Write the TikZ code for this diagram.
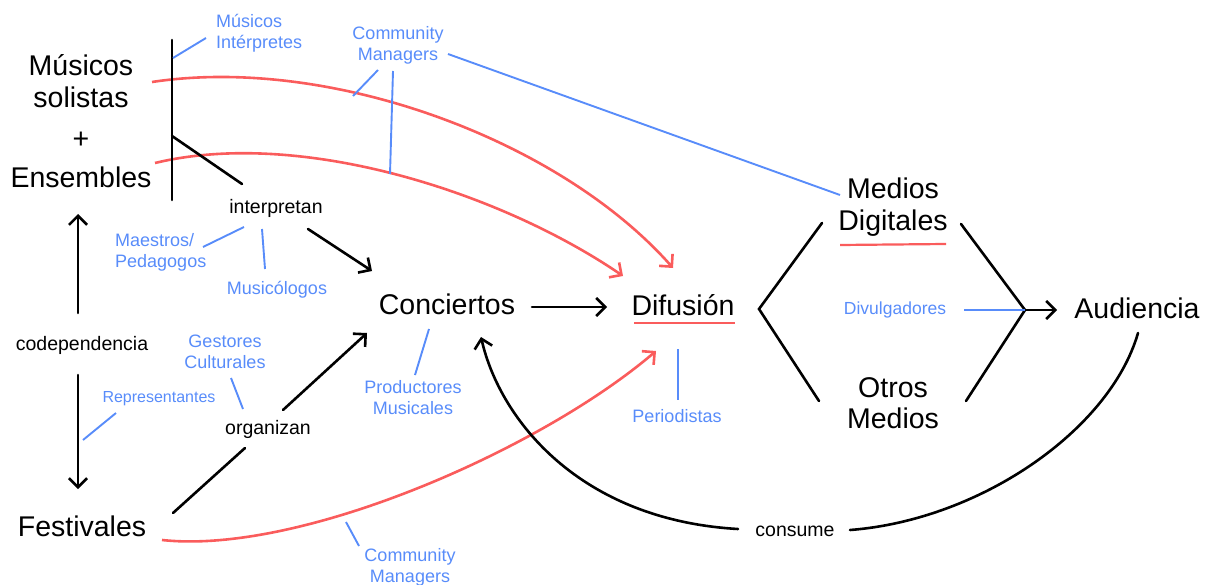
\documentclass[tikz,border=0pt]{standalone}
\usepackage{fontspec}
\setmainfont{Liberation Sans}
\usetikzlibrary{arrows.meta}
\definecolor{cblue}{RGB}{88,140,250}
\definecolor{cred}{RGB}{250,92,92}
\tikzset{
  big/.style={font=\fontsize{28.5}{31.5}\selectfont, align=center, inner sep=0pt},
  mid/.style={font=\fontsize{19.5}{22}\selectfont, inner sep=0pt},
  lbl/.style={text=cblue, font=\fontsize{18}{21}\selectfont, align=center, inner sep=0pt},
  blk/.style={line width=2.6pt, black, line cap=round},
  bln/.style={line width=1.9pt, cblue},
  rdl/.style={line width=2.6pt, cred},
  arr/.style={-{Straight Barb[length=9pt,width=18pt]}},
}
\begin{document}
\begin{tikzpicture}[x=1pt,y=-1pt]
\useasboundingbox (0,0) rectangle (1206,585);
% text nodes
\node[big] (mus) at (81,81) {Músicos\\solistas};
\node[big] (plus) at (81,140) {+};
\node[big] (ens) at (81,177) {Ensembles};
\node[lbl, align=left, anchor=west] (mi) at (216,33) {Músicos\\Intérpretes};
\node[lbl] (cm1) at (398,45) {Community\\Managers};
\node[mid] (interp) at (276,208) {interpretan};
\node[lbl, align=left, anchor=west] (maes) at (115,252) {Maestros/\\Pedagogos};
\node[lbl] (musico) at (277,290) {Musicólogos};
\node[big] (conc) at (447,304) {Conciertos};
\node[big] (dif) at (683,305) {Difusión};
\node[lbl] (prod) at (413,398) {Productores\\Musicales};
\node[lbl] (period) at (677,416) {Periodistas};
\node[big] (md) at (893,207) {Medios\\Digitales};
\node[big] (om) at (893,403) {Otros\\Medios};
\node[lbl, font=\fontsize{17.5}{20}\selectfont] (divul) at (895,310) {Divulgadores};
\node[big] (aud) at (1137,308) {Audiencia};
\node[mid] (codep) at (82,345) {codependencia};
\node[lbl, font=\fontsize{16}{20}\selectfont] (rep) at (159,399) {Representantes};
\node[big] (fest) at (82,526) {Festivales};
\node[lbl] (gest) at (225,352) {Gestores\\Culturales};
\node[mid] (org) at (268,429) {organizan};
\node[lbl] (cm2) at (410,567) {Community\\Managers};
\node[mid] (cons) at (795,531) {consume};
% coordinates
\coordinate (vt) at (172,40);
\coordinate (vb) at (172,200);
\coordinate (vm) at (172,136);
\coordinate (vmi) at (173,58);
\coordinate (mie) at (206,38);
\coordinate (inA) at (242,184);
\coordinate (inB) at (308,229);
\coordinate (concA) at (372,271);
\coordinate (maesE) at (203,247);
\coordinate (inM) at (244,227);
\coordinate (inN) at (262,229);
\coordinate (musE) at (265,269);
\coordinate (cmA) at (378,70);
\coordinate (r1p) at (353,96);
\coordinate (cmB) at (393,71);
\coordinate (r2p) at (390,174);
\coordinate (cmC) at (448,54);
\coordinate (mdA) at (840,195);
\coordinate (concR) at (532,307);
\coordinate (difL) at (607,307);
\coordinate (difU1) at (634,323);
\coordinate (difU2) at (735,323);
\coordinate (concB) at (429,329);
\coordinate (prodT) at (415,375);
\coordinate (difB) at (678,349);
\coordinate (perT) at (678,400);
\coordinate (c1) at (822,223);
\coordinate (c2) at (759,309);
\coordinate (c3) at (819,401);
\coordinate (d1) at (961,224);
\coordinate (d2) at (1025,310);
\coordinate (d3) at (966,401);
\coordinate (audL) at (1057,310);
\coordinate (divR) at (964,310);
\coordinate (mdU1) at (840,245);
\coordinate (mdU2) at (946,244);
\coordinate (codT) at (78,313);
\coordinate (ensB) at (78,214);
\coordinate (codB) at (78,375);
\coordinate (festT) at (78,489);
\coordinate (repL) at (83,440);
\coordinate (repE) at (116,413);
\coordinate (gestB) at (231,378);
\coordinate (orgT) at (243,409);
\coordinate (festR) at (173,513);
\coordinate (orgL) at (245,448);
\coordinate (orgR) at (283,410);
\coordinate (concL) at (367,333);
\coordinate (r3p) at (346,522);
\coordinate (cm2T) at (359,546);
\coordinate (musR1) at (152,82);
\coordinate (difT1) at (673,268);
\coordinate (ensR) at (155,163);
\coordinate (difT2) at (623,276);
\coordinate (festR2) at (162,540);
\coordinate (difT3) at (656,351);
\coordinate (consL) at (738,529);
\coordinate (concT) at (481,337);
\coordinate (consR) at (850,530);
\coordinate (audB) at (1138,333);
% red curves
\draw[rdl, arr] (musR1) .. controls (330,55) and (560,140) .. (difT1);
\draw[rdl, arr] (ensR) .. controls (300,128) and (500,192) .. (difT2);
\draw[rdl, arr] (festR2) .. controls (300,555) and (540,450) .. (difT3);
\draw[rdl, line width=2.2pt] (difU1) -- (difU2);
\draw[rdl, line width=2.2pt] (mdU1) -- (mdU2);
% black lines
\draw[blk] (vt) -- (vb);
\draw[blk] (vm) -- (inA);
\draw[blk, arr] (inB) -- (concA);
\draw[blk, arr] (concR) -- (difL);
\draw[blk] (c1) -- (c2) -- (c3);
\draw[blk] (d1) -- (d2) -- (d3);
\draw[blk, arr] (d2) -- (audL);
\draw[blk, arr] (codT) -- (ensB);
\draw[blk, arr] (codB) -- (festT);
\draw[blk] (festR) -- (orgL);
\draw[blk, arr] (orgR) -- (concL);
\draw[blk, arr] (consL) .. controls (580,520) and (500,420) .. (concT);
\draw[blk] (consR) .. controls (980,520) and (1110,430) .. (audB);
% blue lines
\draw[bln] (vmi) -- (mie);
\draw[bln] (maesE) -- (inM);
\draw[bln] (inN) -- (musE);
\draw[bln] (cmA) -- (r1p);
\draw[bln] (cmB) -- (r2p);
\draw[bln] (cmC) -- (mdA);
\draw[bln] (concB) -- (prodT);
\draw[bln] (difB) -- (perT);
\draw[bln] (divR) -- (d2);
\draw[bln] (repL) -- (repE);
\draw[bln] (gestB) -- (orgT);
\draw[bln] (r3p) -- (cm2T);
\end{tikzpicture}
\end{document}
